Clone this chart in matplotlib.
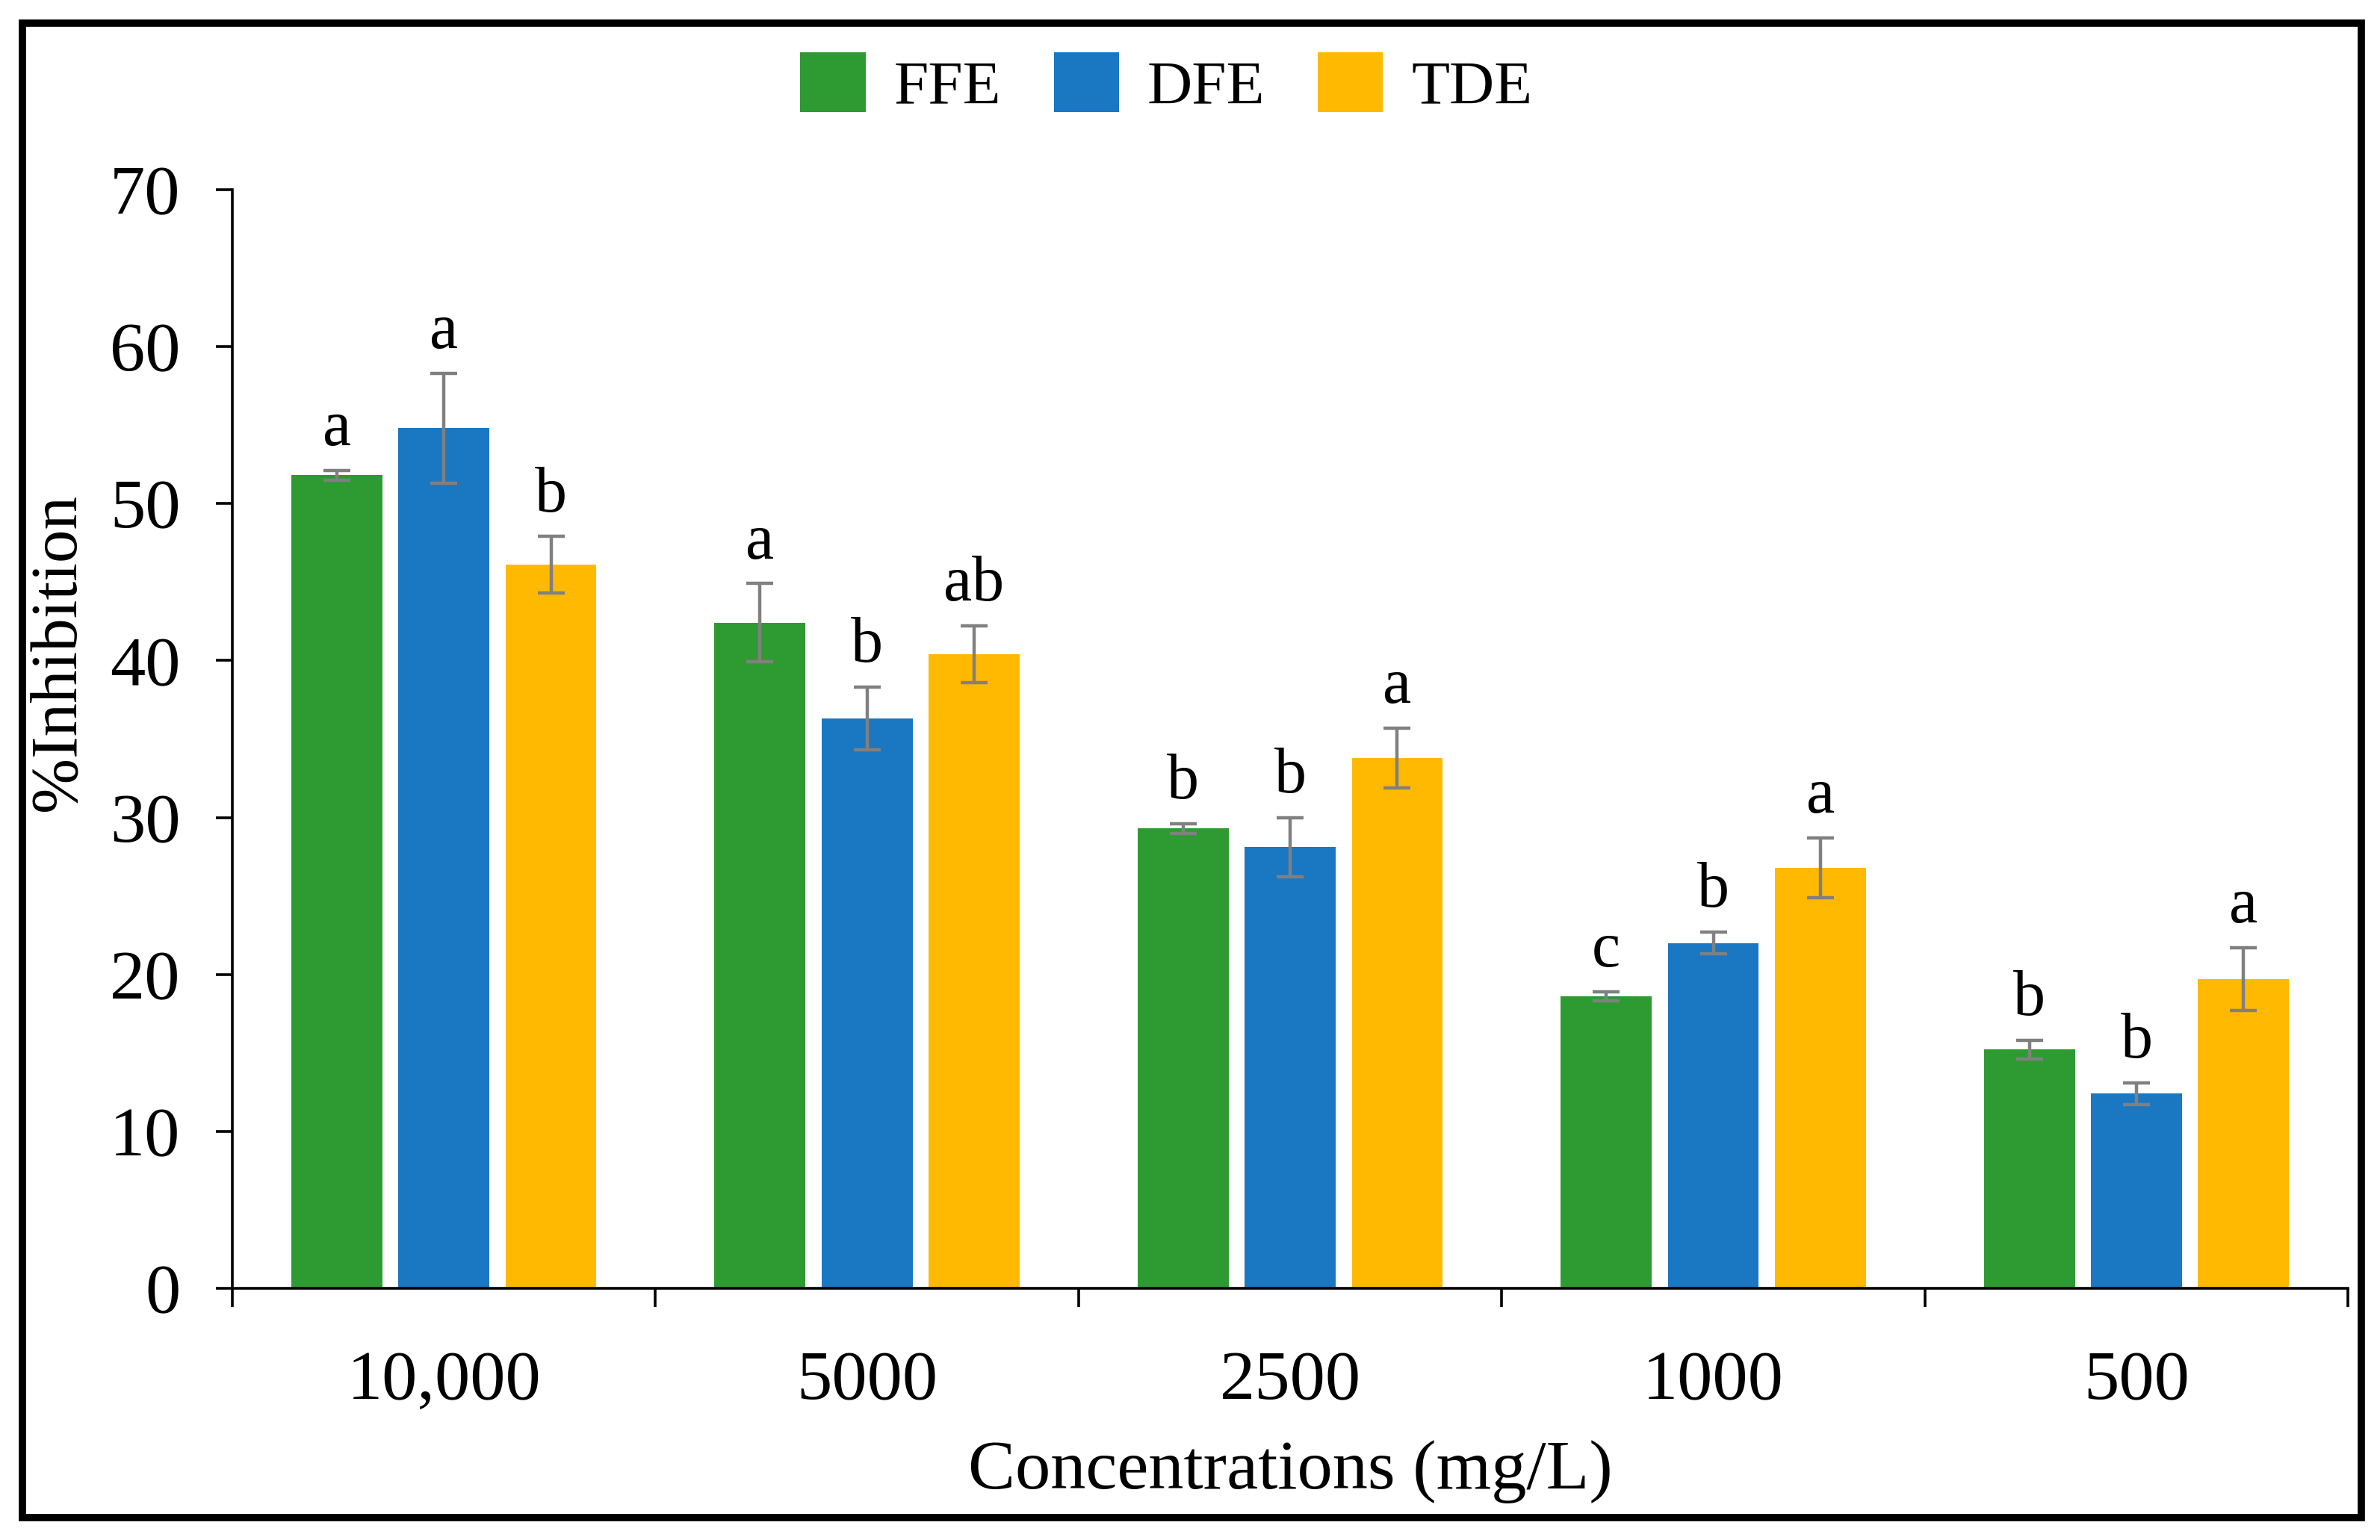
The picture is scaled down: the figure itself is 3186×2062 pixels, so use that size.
import numpy as np
import matplotlib
matplotlib.use('Agg')
import matplotlib.pyplot as plt
import matplotlib.patches as patches

plt.rcParams['font.family'] = ['Liberation Serif', 'DejaVu Serif']

# data
concs = ['10,000', '5000', '2500', '1000', '500']
series = ['FFE', 'DFE', 'TDE']
ffe = [51.8, 42.4, 29.3, 18.6, 15.2]
dfe = [54.8, 36.3, 28.1, 22.0, 12.4]
tde = [46.1, 40.4, 33.8, 26.8, 19.7]
ffe_err = [0.3, 2.5, 0.3, 0.3, 0.6]
dfe_err = [3.5, 2.0, 1.9, 0.7, 0.7]
tde_err = [1.8, 1.8, 1.9, 1.9, 2.0]
ffe_let = ['a', 'a', 'b', 'c', 'b']
dfe_let = ['a', 'b', 'b', 'b', 'b']
tde_let = ['b', 'ab', 'a', 'a', 'a']

colors = ['#2e9a32', '#1a77c2', '#ffb900']
vals = [ffe, dfe, tde]
errs = [ffe_err, dfe_err, tde_err]
lets = [ffe_let, dfe_let, tde_let]

fig = plt.figure(figsize=(15.93, 10.31), dpi=200)
ax = fig.add_axes([0.0976, 0.1635, 0.889, 0.7133])

x = np.arange(len(concs))
w = 0.215
off = 0.253
for i in range(3):
	xi = x + (i - 1) * off
	ax.bar(xi, vals[i], width=w, color=colors[i], label=series[i], zorder=2)
	ax.errorbar(xi, vals[i], yerr=errs[i], fmt='none', ecolor='#808080',
		elinewidth=1.6, capsize=6.5, capthick=1.6, zorder=3)
	for j in range(len(concs)):
		ax.text(xi[j], vals[i][j] + errs[i][j] + 0.7, lets[i][j],
			ha='center', va='bottom', fontsize=31)

ax.set_xlim(-0.5, len(concs) - 0.5)
ax.set_ylim(0, 70)
ax.set_yticks(np.arange(0, 71, 10))
ax.tick_params(axis='y', labelsize=34, length=8, width=1.3, direction='out', pad=17)
ax.set_xticks(np.arange(-0.5, len(concs), 1.0))
ax.set_xticklabels([])
ax.tick_params(axis='x', which='major', length=9, width=1.3, direction='out')
ax.set_xticks(x, minor=True)
ax.set_xticklabels(concs, minor=True)
ax.tick_params(axis='x', which='minor', length=0, labelsize=34, pad=30)
for s in ['top', 'right']:
	ax.spines[s].set_visible(False)
for s in ['left', 'bottom']:
	ax.spines[s].set_linewidth(1.3)

ax.set_xlabel('Concentrations (mg/L)', fontsize=34)
ax.xaxis.set_label_coords(0.50, -0.138)
ax.set_ylabel('%Inhibition', fontsize=32)
ax.yaxis.set_label_coords(-0.068, 0.579)

leg = fig.legend(loc='center', bbox_to_anchor=(0.49, 0.945), ncol=3, frameon=False,
	fontsize=30, handlelength=1.05, handleheight=1.1, handletextpad=0.45, columnspacing=0.85)

# frame round the figure
fig.patches.append(patches.Rectangle((0.0095, 0.0145), 0.9825, 0.9705, transform=fig.transFigure,
	fill=False, edgecolor='black', linewidth=3.5))

fig.savefig('out.png', dpi=200)
